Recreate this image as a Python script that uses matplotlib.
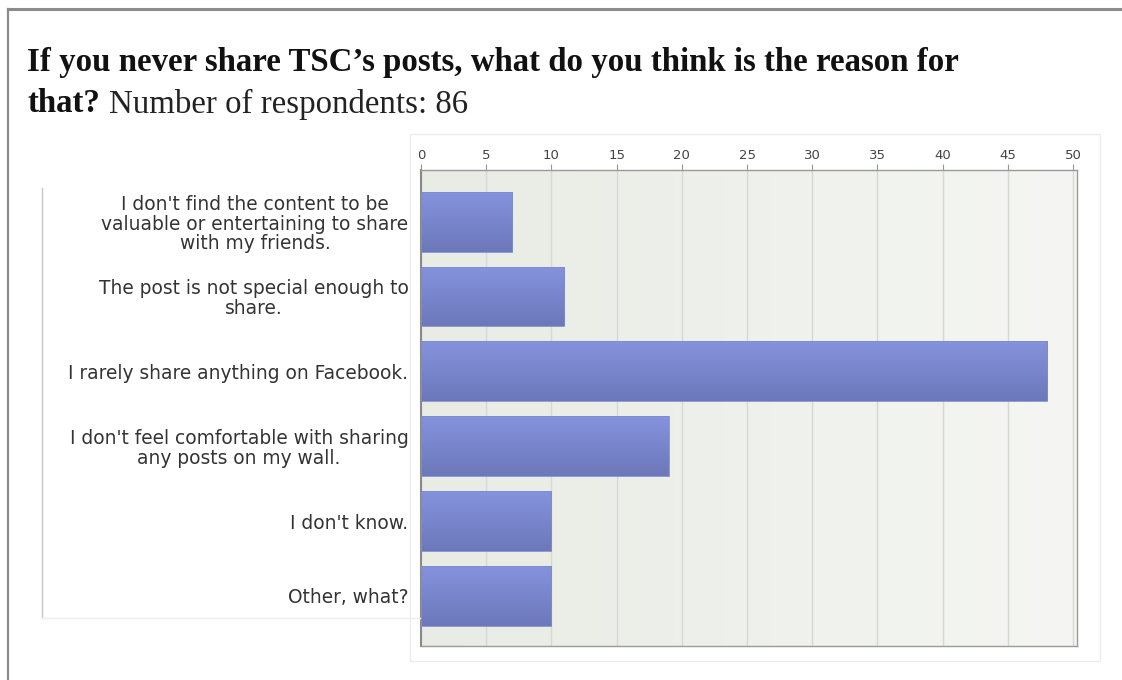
import numpy as np
import matplotlib.pyplot as plt
from matplotlib.colors import LinearSegmentedColormap
from matplotlib.patches import Rectangle
from matplotlib.lines import Line2D

reasons = [
    "I don't find the content to be\nvaluable or entertaining to share\nwith my friends.",
    "The post is not special enough to\nshare.",
    "I rarely share anything on Facebook.",
    "I don't feel comfortable with sharing\nany posts on my wall.",
    "I don't know.",
    "Other, what?",
]
counts = [7, 11, 48, 19, 10, 10]
x_ticks = [0, 5, 10, 15, 20, 25, 30, 35, 40, 45, 50]

W, H = 1122, 680
fig = plt.figure(figsize=(W / 100, H / 100), dpi=100)
fig.patch.set_facecolor("white")

# page frame: top and left rules
fig.add_artist(Line2D([8 / W, 1], [1 - 9 / H, 1 - 9 / H], color="#8c8c8c", lw=2.2))
fig.add_artist(Line2D([8 / W, 8 / W], [0, 1 - 9 / H], color="#8c8c8c", lw=1.6))

# question title
title_kw = dict(family="Liberation Serif", fontsize=23.7, va="center", ha="left")
fig.text(27 / W, 1 - 63 / H, "If you never share TSC\u2019s posts, what do you think is the reason for",
         weight="bold", color="#111111", **title_kw)
t_bold = fig.text(27 / W, 1 - 104 / H, "that?", weight="bold", color="#111111", **title_kw)
renderer = fig.canvas.get_renderer()
x_next = t_bold.get_window_extent(renderer).x1 + 9
fig.text(x_next / W, 1 - 104 / H, "Number of respondents: 86", color="#222222", **title_kw)

# white panels behind the chart and the labels
fig.add_artist(Rectangle((410 / W, 1 - 661 / H), 690 / W, 527 / H, transform=fig.transFigure,
                         facecolor="white", edgecolor="#ececec", lw=1, zorder=0))
fig.add_artist(Line2D([42 / W, 42 / W], [1 - 618 / H, 1 - 188 / H], color="#c8c8c8", lw=1))
fig.add_artist(Line2D([42 / W, 420 / W], [1 - 618 / H, 1 - 618 / H], color="#eeeeee", lw=1))

ax = fig.add_axes([421 / W, 1 - 646 / H, 656 / W, 476 / H])

# soft horizontal gradient on the plot background
bg = np.linspace(0, 1, 256)[None, :]
bg_cmap = LinearSegmentedColormap.from_list("bg", ["#e8ece4", "#f5f6f3"])
ax.imshow(bg, cmap=bg_cmap, extent=[0, 1, 0, 1], transform=ax.transAxes, aspect="auto", zorder=0)

ypos = np.arange(len(counts))
bars = ax.barh(ypos, counts, height=0.8, color="none", edgecolor="#7f8bd0", lw=0.6, zorder=3)

# vertical shading inside each bar
bar_cmap = LinearSegmentedColormap.from_list("bar", ["#8593de", "#6c78b9"])
shade = np.linspace(0, 1, 128)[:, None]
for b in bars:
    x0, y0, w, h = b.get_x(), b.get_y(), b.get_width(), b.get_height()
    im = ax.imshow(shade, cmap=bar_cmap, extent=[x0, x0 + w, y0 + h, y0], aspect="auto", zorder=2)
    im.set_clip_path(b)

ax.set_xlim(0, 50.3)
ax.set_ylim(len(counts) - 0.33, -0.69)
ax.set_aspect("auto")

ax.set_xticks(x_ticks)
ax.xaxis.tick_top()
ax.tick_params(axis="x", length=4, color="#999999", labelsize=9.5, labelcolor="#444444", pad=1.5)
for lbl in ax.get_xticklabels():
    lbl.set_family("DejaVu Sans")
ax.grid(axis="x", color="#d6d8d6", lw=1, zorder=1)
ax.set_axisbelow(True)

ax.set_yticks(ypos)
ax.set_yticklabels(reasons, family="DejaVu Sans", fontsize=13.4, color="#333333",
                   multialignment="center", linespacing=1.05)
ax.tick_params(axis="y", length=0, pad=9)

for side in ["top", "left", "right", "bottom"]:
    ax.spines[side].set_color("#9a9a9a")
    ax.spines[side].set_linewidth(1)
ax.spines["left"].set_color("#8a8a8a")
ax.spines["left"].set_linewidth(1.5)

fig.savefig("out.png", dpi=100)
